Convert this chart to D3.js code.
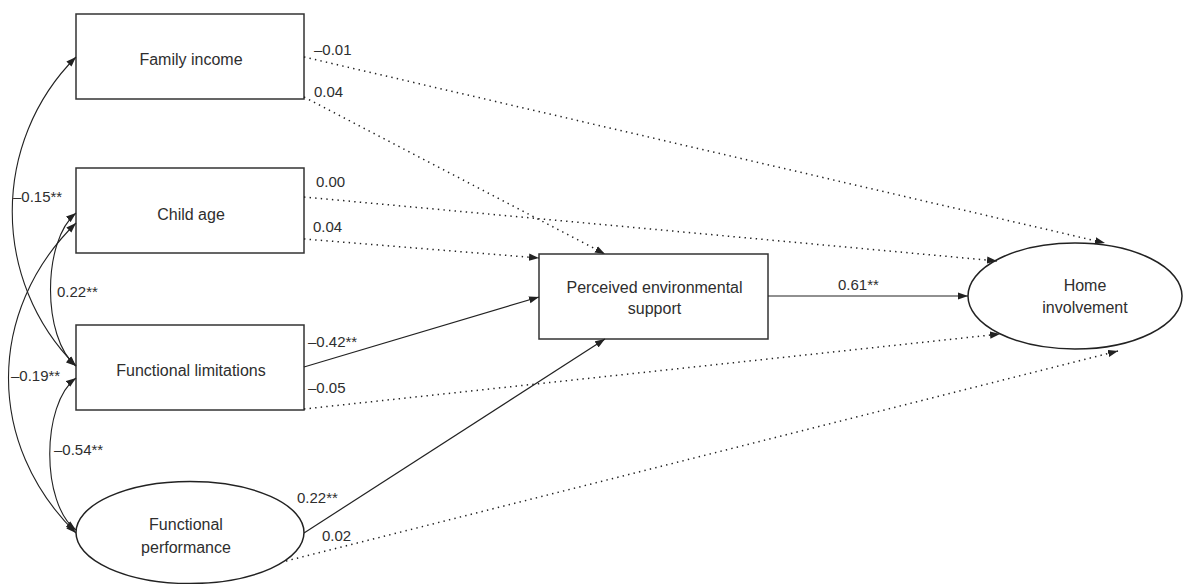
<!DOCTYPE html>
<html>
<head>
<meta charset="utf-8">
<script src="https://cdn.jsdelivr.net/npm/d3@7"></script>
<style>
  body { margin: 0; background: #fff; }
  text { font-family: "Liberation Sans", Arial, Helvetica, sans-serif; fill: #2e2e2e; }
</style>
</head>
<body>
<script>
// canvas
const WIDTH = 1186, HEIGHT = 584;

// ---- data: variables and standardized coefficients ----
const nodeNames = ["Family income", "Child age", "Functional limitations",
                   "Functional performance", "Perceived environmental support", "Home involvement"];
const nodeLines = [["Family income"], ["Child age"], ["Functional limitations"],
                   ["Functional", "performance"], ["Perceived environmental", "support"], ["Home", "involvement"]];

// direct paths (from -> to) and coefficients, ** = significant
const pathFrom = [0, 0, 1, 1, 2, 2, 3, 3, 4];
const pathTo   = [5, 4, 5, 4, 4, 5, 4, 5, 5];
const pathCoef = ["\u20130.01", "0.04", "0.00", "0.04", "\u20130.42**", "\u20130.05", "0.22**", "0.02", "0.61**"];

// correlations between the predictors (double headed)
const covFrom = [0, 1, 1, 2];
const covTo   = [2, 3, 2, 3];
const covCoef = ["\u20130.15**", "\u20130.19**", "0.22**", "\u20130.54**"];

// ---- layout (positions only) ----
const shapes = [
  {type: "rect", x: 76, y: 14, w: 228, h: 85, ty: [65]},
  {type: "rect", x: 76, y: 168, w: 228, h: 85, ty: [220]},
  {type: "rect", x: 76, y: 325, w: 228, h: 85, ty: [376]},
  {type: "ellipse", cx: 190, cy: 532.5, rx: 114, ry: 51, tx: 186, ty: [530, 552.5]},
  {type: "rect", x: 539, y: 254, w: 229, h: 85, ty: [293, 314]},
  {type: "ellipse", cx: 1075, cy: 296, rx: 107, ry: 53, tx: 1085, ty: [290.5, 313]}
];
// start / end points of each path and label anchor
const pathGeom = [
  {p0: [304, 57],  p1: [1105, 243], lab: [314, 55]},
  {p0: [304, 97],  p1: [605, 254],  lab: [314, 97]},
  {p0: [304, 197], p1: [997, 261],  lab: [316, 187]},
  {p0: [304, 239], p1: [539, 258],  lab: [313, 232]},
  {p0: [304, 367], p1: [539, 297],  lab: [308, 347]},
  {p0: [304, 409], p1: [1000, 334], lab: [308, 393]},
  {p0: [304, 533], p1: [605, 339],  lab: [297, 503]},
  {p0: [286, 561], p1: [1118, 351], lab: [322, 541]},
  {p0: [768, 296], p1: [968, 296],  lab: [838, 290]}
];
const covGeom = [
  {y0: 57,  y1: 366, c: -9,  k: 85, lab: [13, 202]},
  {y0: 223, y1: 533, c: -14, k: 88, lab: [11, 381]},
  {y0: 213, y1: 366, c: 42,  k: 28, lab: [57, 297]},
  {y0: 378, y1: 530, c: 41,  k: 26, lab: [54, 455]}
];
const LEFT_X = 76;

const svg = d3.select("body").append("svg")
    .attr("width", WIDTH)
    .attr("height", HEIGHT);

// arrow head
svg.append("defs").append("marker")
    .attr("id", "head")
    .attr("viewBox", "0 -4 10 8")
    .attr("refX", 10).attr("refY", 0)
    .attr("markerWidth", 10).attr("markerHeight", 8)
    .attr("markerUnits", "userSpaceOnUse")
    .attr("orient", "auto-start-reverse")
  .append("path")
    .attr("d", "M0,-3.6L10,0L0,3.6Z")
    .attr("fill", "#222");

const line = d3.line();

// direct paths
const g = svg.append("g");
g.selectAll("path.edge")
  .data(pathFrom.map((f, i) => ({from: f, to: pathTo[i], coef: pathCoef[i], geo: pathGeom[i]})))
  .join("path")
    .attr("class", "edge")
    .attr("d", d => line([d.geo.p0, d.geo.p1]))
    .attr("fill", "none")
    .attr("stroke", "#222")
    .attr("stroke-width", d => d.coef.includes("**") ? 1.2 : 1.5)
    .attr("stroke-dasharray", d => d.coef.includes("**") ? null : "1.4 4.2")
    .attr("marker-end", "url(#head)");

g.selectAll("text.coef")
  .data(pathCoef)
  .join("text")
    .attr("class", "coef")
    .attr("x", (d, i) => pathGeom[i].lab[0])
    .attr("y", (d, i) => pathGeom[i].lab[1])
    .attr("font-size", 15)
    .text(d => d);

// correlations: curved double arrows on the left
g.selectAll("path.cov")
  .data(covCoef)
  .join("path")
    .attr("class", "cov")
    .attr("d", (d, i) => {
        const c = covGeom[i], p = d3.path();
        p.moveTo(LEFT_X, c.y0);
        p.bezierCurveTo(c.c, c.y0 + c.k, c.c, c.y1 - c.k, LEFT_X, c.y1);
        return p.toString();
    })
    .attr("fill", "none")
    .attr("stroke", "#222")
    .attr("stroke-width", 1.1)
    .attr("marker-start", "url(#head)")
    .attr("marker-end", "url(#head)");

g.selectAll("text.covlab")
  .data(covCoef)
  .join("text")
    .attr("class", "covlab")
    .attr("x", (d, i) => covGeom[i].lab[0])
    .attr("y", (d, i) => covGeom[i].lab[1])
    .attr("font-size", 15)
    .text(d => d);

// nodes
const nodes = svg.append("g").selectAll("g")
  .data(nodeNames)
  .join("g");

nodes.each(function(name, i) {
    const s = shapes[i], sel = d3.select(this);
    let tx;
    if (s.type === "rect") {
        sel.append("rect")
            .attr("x", s.x).attr("y", s.y)
            .attr("width", s.w).attr("height", s.h)
            .attr("fill", "#fff").attr("stroke", "#333").attr("stroke-width", 1.5);
        tx = s.x + s.w / 2 + 1;
    } else {
        sel.append("ellipse")
            .attr("cx", s.cx).attr("cy", s.cy)
            .attr("rx", s.rx).attr("ry", s.ry)
            .attr("fill", "#fff").attr("stroke", "#222").attr("stroke-width", 1.5);
        tx = s.tx;
    }
    sel.selectAll("text")
      .data(nodeLines[i])
      .join("text")
        .attr("x", tx)
        .attr("y", (d, j) => s.ty[j])
        .attr("text-anchor", "middle")
        .attr("font-size", 16)
        .text(d => d);
});

// paths should sit on top of node outlines at their tips
svg.node().appendChild(g.node());
</script>
</body>
</html>
